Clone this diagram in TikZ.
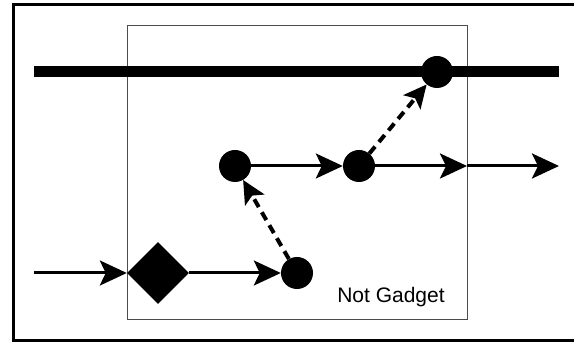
\documentclass[tikz,border=0pt]{standalone}
\usepackage{fontspec}
\setmainfont{Liberation Sans}
\usetikzlibrary{arrows.meta,shapes.geometric}

\tikzset{
    dot/.style={circle,fill,inner sep=0pt,minimum size=32pt},
    gate/.style={diamond,fill,inner sep=0pt,minimum width=62pt,minimum height=62pt},
    link/.style={line width=3pt,-{Stealth[length=27pt,width=25pt,inset=6pt]}},
    hop/.style={line width=4pt,dash pattern=on 9pt off 6pt,-{Stealth[length=23pt,width=22pt,inset=5pt]}},
}

\begin{document}
\begin{tikzpicture}[x=1pt,y=1pt]
    \useasboundingbox (0,0) rectangle (574,342);
    \fill[white] (0,0) rectangle (574,342);

    % frame and gadget box
    \draw[line width=3pt] (13,1) rectangle (600,337);
    \draw[line width=1pt,black!70] (127,22) rectangle (467,316);

    % thick bar
    \coordinate (barL) at (34,270);
    \coordinate (barR) at (559,270);
    \draw[line width=11pt] (barL) -- (barR);

    % nodes
    \node[dot] (T) at (437,270) {};
    \node[dot] (L) at (235,176) {};
    \node[dot] (M) at (359,176) {};
    \node[dot] (B) at (297,69) {};
    \node[gate] (D) at (158,69) {};

    \coordinate (in) at (34,69);
    \coordinate (edge) at (467,176);
    \coordinate (out) at (559,176);

    % arrows
    \draw[link] (in) -- (D.west);
    \draw[link] (D.east) -- (B);
    \draw[link] (L) -- (M);
    \draw[link] (M) -- (edge);
    \draw[link] (edge) -- (out);

    \draw[hop] (B) -- (L);
    \draw[hop] (M) -- (T);

    \node (lbl) at (391,45) {\fontsize{21}{25}\selectfont Not Gadget};
\end{tikzpicture}
\end{document}
